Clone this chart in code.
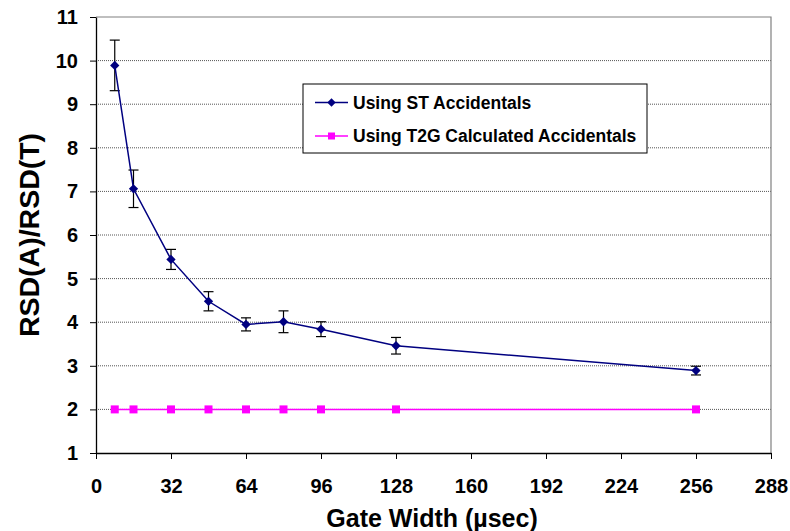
<!DOCTYPE html>
<html>
<head>
<meta charset="utf-8">
<script src="https://cdn.jsdelivr.net/npm/d3@7"></script>
<style>
  body { margin: 0; background: #fff; }
  text { font-family: Arial, "Liberation Sans", sans-serif; font-weight: bold; }
</style>
</head>
<body>
<script>
// gate widths (usec)
const gateWidths = [8, 16, 32, 48, 64, 80, 96, 128, 256];
// RSD ratio using ST accidentals, with error bar half-widths
const stValues = [9.89, 7.06, 5.44, 4.48, 3.95, 4.01, 3.84, 3.46, 2.89];
const stErrors = [0.58, 0.43, 0.23, 0.22, 0.15, 0.25, 0.17, 0.19, 0.10];
// RSD ratio using T2G calculated accidentals
const t2gValues = [2, 2, 2, 2, 2, 2, 2, 2, 2];

const xTicks = [0, 32, 64, 96, 128, 160, 192, 224, 256, 288];
const yTicks = [1, 2, 3, 4, 5, 6, 7, 8, 9, 10, 11];

const width = 790;
const height = 531;
const margin = { top: 17, right: 19, bottom: 78, left: 96 };

const svg = d3
  .select("body")
  .append("svg")
  .attr("width", width)
  .attr("height", height);

const x = d3
  .scaleLinear()
  .domain([0, 288])
  .range([margin.left, width - margin.right]);

const y = d3
  .scaleLinear()
  .domain([1, 11])
  .range([height - margin.bottom, margin.top]);

// gridlines (dotted)
svg
  .selectAll("line.grid")
  .data(yTicks.filter((d) => d > 1 && d < 11))
  .join("line")
  .attr("class", "grid")
  .attr("x1", x(0))
  .attr("x2", x(288))
  .attr("y1", (d) => y(d))
  .attr("y2", (d) => y(d))
  .attr("stroke", "#555")
  .attr("stroke-width", 1)
  .attr("stroke-dasharray", "1,1");

// plot area border (top and right in gray)
svg
  .append("path")
  .attr("d", `M${x(0)},${y(11)}H${x(288)}V${y(1)}`)
  .attr("fill", "none")
  .attr("stroke", "#808080")
  .attr("stroke-width", 1.2);

// axes
const xAxis = d3
  .axisBottom(x)
  .tickValues(xTicks)
  .tickSizeInner(6)
  .tickSizeOuter(0)
  .tickPadding(20);

const yAxis = d3
  .axisLeft(y)
  .tickValues(yTicks)
  .tickSizeInner(6)
  .tickSizeOuter(0)
  .tickPadding(12);

const gx = svg
  .append("g")
  .attr("transform", `translate(0,${y(1)})`)
  .call(xAxis);
gx.selectAll("text").attr("font-size", 20).attr("fill", "#000");
gx.select(".domain").attr("stroke", "#000").attr("stroke-width", 1.3);

const gy = svg
  .append("g")
  .attr("transform", `translate(${x(0)},0)`)
  .call(yAxis);
gy.selectAll("text").attr("font-size", 20).attr("fill", "#000");
gy.select(".domain").attr("stroke", "#000").attr("stroke-width", 1.3);
svg.selectAll(".tick line").attr("stroke", "#000");
svg.selectAll(".tick text").attr("font-family", "Arial, 'Liberation Sans', sans-serif").attr("font-weight", "bold");

// axis titles
svg
  .append("text")
  .attr("x", 432)
  .attr("y", 527)
  .attr("text-anchor", "middle")
  .attr("font-size", 25)
  .text("Gate Width (\u00b5sec)");

svg
  .append("text")
  .attr("transform", `translate(39,235) rotate(-90)`)
  .attr("text-anchor", "middle")
  .attr("font-size", 28.5)
  .text("RSD(A)/RSD(T)");

const stData = gateWidths.map((g, i) => ({ g, v: stValues[i], e: stErrors[i] }));
const t2gData = gateWidths.map((g, i) => ({ g, v: t2gValues[i] }));

const line = d3
  .line()
  .x((d) => x(d.g))
  .y((d) => y(d.v));

// T2G series
svg
  .append("path")
  .datum(t2gData)
  .attr("d", line)
  .attr("fill", "none")
  .attr("stroke", "#ff00ff")
  .attr("stroke-width", 1.5);

svg
  .selectAll("rect.t2g")
  .data(t2gData)
  .join("rect")
  .attr("class", "t2g")
  .attr("x", (d) => x(d.g) - 4)
  .attr("y", (d) => y(d.v) - 4)
  .attr("width", 8)
  .attr("height", 8)
  .attr("fill", "#ff00ff");

// error bars
const eb = svg.selectAll("g.err").data(stData).join("g").attr("class", "err");
eb.append("line")
  .attr("x1", (d) => x(d.g))
  .attr("x2", (d) => x(d.g))
  .attr("y1", (d) => y(d.v - d.e))
  .attr("y2", (d) => y(d.v + d.e))
  .attr("stroke", "#000")
  .attr("stroke-width", 1.2);
eb.selectAll("line.cap")
  .data((d) => [d.v - d.e, d.v + d.e].map((v) => ({ g: d.g, v })))
  .join("line")
  .attr("class", "cap")
  .attr("x1", (d) => x(d.g) - 5)
  .attr("x2", (d) => x(d.g) + 5)
  .attr("y1", (d) => y(d.v))
  .attr("y2", (d) => y(d.v))
  .attr("stroke", "#000")
  .attr("stroke-width", 1.2);

// ST series
svg
  .append("path")
  .datum(stData)
  .attr("d", line)
  .attr("fill", "none")
  .attr("stroke", "#000080")
  .attr("stroke-width", 1.5);

const diamond = d3.symbol().type(d3.symbolDiamond2).size(55);
svg
  .selectAll("path.st")
  .data(stData)
  .join("path")
  .attr("class", "st")
  .attr("d", diamond)
  .attr("transform", (d) => `translate(${x(d.g)},${y(d.v)})`)
  .attr("fill", "#000080");

// legend
const legend = svg.append("g").attr("transform", "translate(303,84)");
legend
  .append("rect")
  .attr("width", 344)
  .attr("height", 69)
  .attr("fill", "#fff")
  .attr("stroke", "#000")
  .attr("stroke-width", 1);

const legendItems = [
  { label: "Using ST Accidentals", color: "#000080", shape: "diamond", dy: 18.5 },
  { label: "Using T2G Calculated Accidentals", color: "#ff00ff", shape: "square", dy: 52 },
];

legendItems.forEach((it) => {
  const g = legend.append("g").attr("transform", `translate(0,${it.dy})`);
  g.append("line")
    .attr("x1", 12)
    .attr("x2", 45)
    .attr("stroke", it.color)
    .attr("stroke-width", 1.5);
  if (it.shape === "diamond") {
    g.append("path")
      .attr("d", d3.symbol().type(d3.symbolDiamond2).size(45))
      .attr("transform", "translate(28.5,0)")
      .attr("fill", it.color);
  } else {
    g.append("rect")
      .attr("x", 25)
      .attr("y", -3.5)
      .attr("width", 7)
      .attr("height", 7)
      .attr("fill", it.color);
  }
  g.append("text")
    .attr("x", 50)
    .attr("y", 6)
    .attr("font-size", 17.5)
    .text(it.label);
});
</script>
</body>
</html>
